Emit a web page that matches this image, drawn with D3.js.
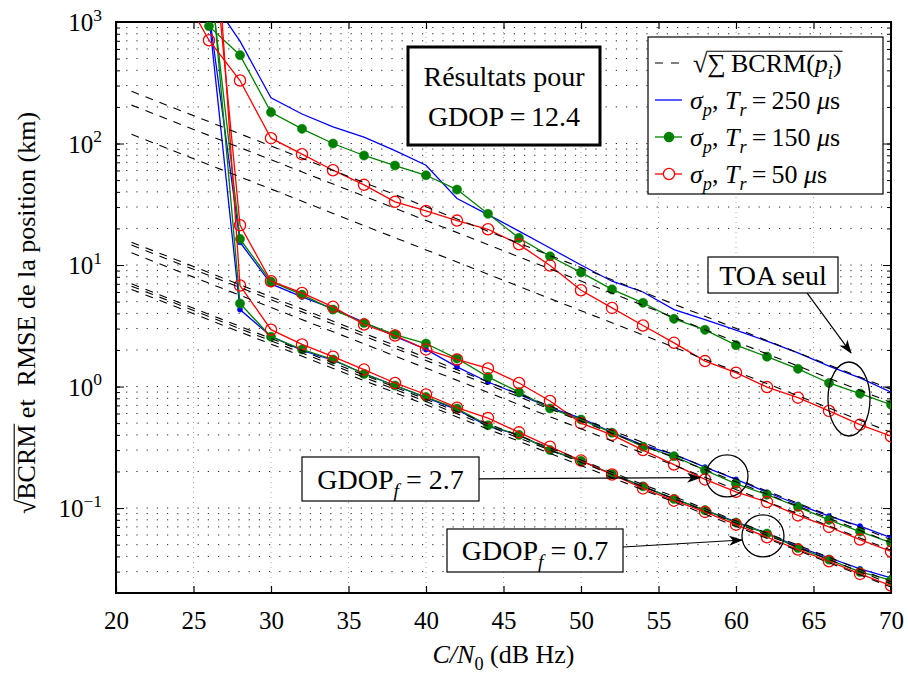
<!DOCTYPE html>
<html>
<head>
<meta charset="utf-8">
<script src="https://cdn.jsdelivr.net/npm/d3@7"></script>
<style>
  body { margin: 0; background: #fff; }
  text { font-family: "Liberation Serif", "Times New Roman", serif; fill: #000; }
</style>
</head>
<body>
<svg id="chart" width="908" height="677"></svg>
<script>
//C/N0 values (dB Hz) where the simulated curves were computed
var cn0 = [24, 26, 28, 30, 32, 34, 36, 38, 40, 42, 44, 46, 48, 50, 52, 54, 56, 58, 60, 62, 64, 66, 68, 70];

//TOA seul (GDOP = 12.4)
var toa250 = [5000, 1650, 695, 238, 175, 137, 113, 87.5, 66.3, 35.3, 26.0, 19.0, 13.8, 10.0, 7.36, 6.0, 4.30, 3.56, 2.91, 2.36, 1.89, 1.47, 1.18, 0.90];
var toa150 = [3000, 924, 533, 181, 132, 100, 79.7, 65.9, 54.8, 41.8, 26.4, 16.7, 11.8, 8.7, 6.3, 4.89, 3.61, 2.93, 2.19, 1.76, 1.40, 1.07, 0.875, 0.71];
var toa50  = [2000, 708, 330, 110.6, 81.7, 60.3, 45.7, 33.1, 27.9, 23.2, 19.7, 14.8, 9.9, 6.2, 4.44, 3.18, 2.29, 1.62, 1.30, 0.99, 0.81, 0.63, 0.486, 0.39];

//GDOP_f = 2.7
var g27_250 = [1e5, 1200, 15.4, 7.0, 5.47, 4.38, 3.38, 2.59, 2.02, 1.45, 1.09, 0.86, 0.67, 0.55, 0.42, 0.33, 0.276, 0.217, 0.172, 0.135, 0.107, 0.086, 0.071, 0.057];
var g27_150 = [1e5, 2750, 16.4, 7.3, 5.7, 4.30, 3.34, 2.68, 2.26, 1.70, 1.20, 0.90, 0.66, 0.535, 0.417, 0.32, 0.267, 0.205, 0.158, 0.129, 0.102, 0.080, 0.064, 0.052];
var g27_50  = [1e6, 10000, 21.3, 7.36, 5.9, 4.53, 3.24, 2.63, 2.02, 1.67, 1.41, 1.07, 0.76, 0.50, 0.40, 0.30, 0.228, 0.172, 0.136, 0.112, 0.087, 0.070, 0.055, 0.044];

//GDOP_f = 0.7
var g07_250 = [1e5, 1100, 4.3, 2.6, 1.98, 1.65, 1.28, 1.02, 0.81, 0.647, 0.47, 0.40, 0.30, 0.245, 0.19, 0.151, 0.119, 0.096, 0.077, 0.062, 0.048, 0.039, 0.0316, 0.0266];
var g07_150 = [1e5, 3700, 4.82, 2.57, 2.02, 1.67, 1.27, 1.02, 0.82, 0.66, 0.48, 0.40, 0.30, 0.245, 0.19, 0.151, 0.119, 0.096, 0.076, 0.0617, 0.047, 0.0377, 0.0298, 0.0255];
var g07_50  = [1e6, 40000, 6.78, 2.94, 2.22, 1.76, 1.38, 1.07, 0.86, 0.67, 0.55, 0.42, 0.32, 0.246, 0.189, 0.145, 0.115, 0.093, 0.073, 0.0575, 0.0455, 0.0365, 0.0287, 0.023];

//sqrt(sum BCRM) bounds : straight lines, value at first and last C/N0
var boundX = [21, 70];
var boundToa = [[269, 0.95], [207, 0.74], [119, 0.42]];
var boundG27 = [[15.4, 0.055], [14.6, 0.052], [12.6, 0.045]];
var boundG07 = [[7.0, 0.0248], [6.7, 0.0238], [6.3, 0.0224]];

//axes
var xTicks = [20, 25, 30, 35, 40, 45, 50, 55, 60, 65, 70];
var yDecades = [-1, 0, 1, 2, 3];

//set up dimensions
var width = 908, height = 677;
var plot = {left: 116, right: 891, top: 22, bottom: 593};

var svg = d3.select("#chart");

var x = d3.scaleLinear().domain([20, 70]).range([plot.left, plot.right]);
var y = d3.scaleLog().domain([0.02, 1000]).range([plot.bottom, plot.top]);

//helper for text with italics, sub/superscripts
function rich(g, px, py, parts, size, anchor) {
    var t = g.append("text")
        .attr("x", px).attr("y", py)
        .attr("font-size", size)
        .attr("text-anchor", anchor || "start")
        .attr("xml:space", "preserve");
    var shift = 0;
    parts.forEach(function(p) {
        if (typeof p === "string") p = {t: p};
        var s = t.append("tspan").text(p.t);
        var target = p.sub ? size * 0.28 : (p.sup ? -size * 0.42 : 0);
        if (target !== shift) { s.attr("dy", target - shift); shift = target; }
        if (p.sub || p.sup) s.attr("font-size", size * 0.7);
        if (p.it) s.attr("font-style", "italic");
    });
    return t;
}

//draw the vinculum of a radical written as first char of text t
function vinculum(g, t, py, size, last) {
    var node = t.node();
    var n = last || node.getNumberOfChars();
    var x0 = node.getEndPositionOfChar(0).x - 1;
    var x1 = node.getEndPositionOfChar(n - 1).x + 1;
    g.append("line")
        .attr("x1", x0).attr("x2", x1)
        .attr("y1", py - size * 0.80).attr("y2", py - size * 0.80)
        .attr("stroke", "#000").attr("stroke-width", 1.1);
}

//clip
svg.append("defs").append("clipPath").attr("id", "clip")
    .append("rect")
    .attr("x", plot.left).attr("y", plot.top)
    .attr("width", plot.right - plot.left).attr("height", plot.bottom - plot.top);

svg.select("defs").append("marker")
    .attr("id", "head")
    .attr("viewBox", "0 0 14 10")
    .attr("refX", 13).attr("refY", 5)
    .attr("markerWidth", 14).attr("markerHeight", 10)
    .attr("markerUnits", "userSpaceOnUse")
    .attr("orient", "auto")
    .append("path")
    .attr("d", "M0,0 L14,5 L0,10 L4,5 Z")
    .attr("fill", "#000");

//grid
var grid = svg.append("g").attr("class", "grid");
var minorVals = [];
[-2, -1, 0, 1, 2].forEach(function(d) {
    for (var k = 1; k <= 9; k++) {
        var v = k * Math.pow(10, d);
        if (v >= 0.02 && v < 1000) minorVals.push(v);
    }
});
grid.selectAll("line.h").data(minorVals).enter().append("line")
    .attr("x1", plot.left).attr("x2", plot.right)
    .attr("y1", function(d) { return y(d); })
    .attr("y2", function(d) { return y(d); })
    .attr("stroke", "#222")
    .attr("stroke-width", 1)
    .attr("stroke-dasharray", "1.2,9");
grid.selectAll("line.v").data(xTicks.slice(1, -1)).enter().append("line")
    .attr("x1", function(d) { return x(d); })
    .attr("x2", function(d) { return x(d); })
    .attr("y1", plot.top).attr("y2", plot.bottom)
    .attr("stroke", "#aaa")
    .attr("stroke-width", 1)
    .attr("stroke-dasharray", "1,4");

//axes with inward ticks
var majorVals = yDecades.map(function(d) { return Math.pow(10, d); });

svg.append("g")
    .attr("transform", "translate(0," + plot.bottom + ")")
    .call(d3.axisBottom(x).tickValues(xTicks).tickSize(-7).tickPadding(18).tickFormat(d3.format("d")))
    .call(function(g) {
        g.select(".domain").remove();
        g.selectAll("text").attr("font-size", 25).attr("font-family", "Liberation Serif");
        g.selectAll("line").attr("stroke-width", 1.2);
    });
svg.append("g")
    .attr("transform", "translate(0," + plot.top + ")")
    .call(d3.axisTop(x).tickValues(xTicks).tickSize(-7).tickFormat(""))
    .call(function(g) { g.select(".domain").remove(); g.selectAll("line").attr("stroke-width", 1.2); });

svg.append("g")
    .attr("transform", "translate(" + plot.left + ",0)")
    .call(d3.axisLeft(y).tickValues(minorVals).tickSize(-4).tickFormat(""))
    .call(function(g) { g.select(".domain").remove(); });
svg.append("g")
    .attr("transform", "translate(" + plot.right + ",0)")
    .call(d3.axisRight(y).tickValues(minorVals).tickSize(-4).tickFormat(""))
    .call(function(g) { g.select(".domain").remove(); });
svg.append("g")
    .attr("transform", "translate(" + plot.left + ",0)")
    .call(d3.axisLeft(y).tickValues(majorVals).tickSize(-8).tickFormat(""))
    .call(function(g) { g.select(".domain").remove(); });
svg.append("g")
    .attr("transform", "translate(" + plot.right + ",0)")
    .call(d3.axisRight(y).tickValues(majorVals).tickSize(-8).tickFormat(""))
    .call(function(g) { g.select(".domain").remove(); });

//y tick labels 10^n
var ylab = svg.append("g");
yDecades.forEach(function(d) {
    rich(ylab, plot.left - 14, y(Math.pow(10, d)) + 9,
        ["10", {t: String(d).replace("-", "\u2212"), sup: true}], 25, "end");
});

//frame
svg.append("rect")
    .attr("x", plot.left).attr("y", plot.top)
    .attr("width", plot.right - plot.left).attr("height", plot.bottom - plot.top)
    .attr("fill", "none").attr("stroke", "#000").attr("stroke-width", 2);

//axis titles
rich(svg, (plot.left + plot.right) / 2, 663,
    [{t: "C/N", it: true}, {t: "0", sub: true}, " (dB Hz)"], 26, "middle");

var yg = svg.append("g").attr("transform", "translate(35,313) rotate(-90)");
var yt = rich(yg, 0, 0, ["\u221ABCRM\u00A0et\u00A0\u00A0RMSE de la position (km)"], 26, "middle");
vinculum(yg, yt, 0, 26, 5);

//curves
var line = d3.line()
    .x(function(d) { return x(d[0]); })
    .y(function(d) { return y(d[1]); });

var series = [
    {v: toa250, c: "#0000ff", m: "none"},
    {v: g27_250, c: "#0000ff", m: "dot"},
    {v: g07_250, c: "#0000ff", m: "dot"},
    {v: toa150, c: "#008000", m: "fill"},
    {v: g27_150, c: "#008000", m: "fill"},
    {v: g07_150, c: "#008000", m: "fill"},
    {v: toa50, c: "#ff0000", m: "open"},
    {v: g27_50, c: "#ff0000", m: "open"},
    {v: g07_50, c: "#ff0000", m: "open"}
];

var curves = svg.append("g").attr("clip-path", "url(#clip)");

series.forEach(function(s) {
    var pts = cn0.map(function(c, i) { return [c, s.v[i]]; });
    curves.append("path")
        .datum(pts)
        .attr("d", line)
        .attr("fill", "none")
        .attr("stroke", s.c)
        .attr("stroke-width", 1.3);
    if (s.m === "none") return;
    curves.selectAll(null)
        .data(pts).enter()
        .append("circle")
        .attr("cx", function(d) { return x(d[0]); })
        .attr("cy", function(d) { return y(d[1]); })
        .attr("r", s.m === "dot" ? 2.6 : (s.m === "fill" ? 4.6 : 5.6))
        .attr("fill", s.m === "open" ? "none" : s.c)
        .attr("stroke", s.c)
        .attr("stroke-width", s.m === "open" ? 1.3 : 0.5);
});

//dashed bounds
[boundToa, boundG27, boundG07].forEach(function(group) {
    group.forEach(function(b) {
        curves.append("path")
            .datum([[boundX[0], b[0]], [boundX[1], b[1]]])
            .attr("d", line)
            .attr("fill", "none")
            .attr("stroke", "#000")
            .attr("stroke-width", 1.1)
            .attr("stroke-dasharray", "8,7");
    });
});

//annotations
var notes = svg.append("g");

function box(cx, cy, w, h, sw) {
    notes.append("rect")
        .attr("x", cx - w / 2).attr("y", cy - h / 2)
        .attr("width", w).attr("height", h)
        .attr("fill", "#fff").attr("stroke", "#000").attr("stroke-width", sw);
}
function arrow(a, b) {
    notes.append("line")
        .attr("x1", x(a[0])).attr("y1", y(a[1]))
        .attr("x2", x(b[0])).attr("y2", y(b[1]))
        .attr("stroke", "#000").attr("stroke-width", 1.2)
        .attr("marker-end", "url(#head)");
}
function ring(c, rx, ry) {
    notes.append("ellipse")
        .attr("cx", x(c[0])).attr("cy", y(c[1]))
        .attr("rx", rx).attr("ry", ry)
        .attr("fill", "none").attr("stroke", "#000").attr("stroke-width", 1.3);
}

//Resultats pour GDOP = 12.4
box(504, 96, 192, 98, 3);
rich(notes, 504, 86, ["R\u00E9sultats pour"], 28, "middle");
rich(notes, 504, 126, ["GDOP\u2009=\u200912.4"], 28, "middle");

//TOA seul
arrow([64.58, 5.89], [67.42, 1.89]);
ring([67.29, 0.79], 21, 37);
box(773, 275, 130, 36, 1.2);
rich(notes, 773, 285, ["TOA seul"], 28, "middle");

//GDOP_f = 2.7
arrow([43.42, 0.174], [57.68, 0.178]);
ring([59.42, 0.184], 21, 21);
box(390.5, 479, 177, 44, 1.2);
rich(notes, 390.5, 489, ["GDOP", {t: "f", sub: true, it: true}, " = 2.7"], 28, "middle");

//GDOP_f = 0.7
arrow([52.71, 0.0478], [60.39, 0.0546]);
ring([61.74, 0.059], 21, 21);
box(535, 550.5, 176, 43, 1.2);
rich(notes, 535, 560, ["GDOP", {t: "f", sub: true, it: true}, " = 0.7"], 28, "middle");

//legend
var leg = svg.append("g");
leg.append("rect")
    .attr("x", 648).attr("y", 37).attr("width", 235).attr("height", 157)
    .attr("fill", "#fff").attr("stroke", "#000").attr("stroke-width", 1.2);

var legRows = [
    {c: "#000", m: "dash", parts: ["\u221A\u2211\u2009BCRM(", {t: "p", it: true}, {t: "i", it: true, sub: true}, ")"]},
    {c: "#0000ff", m: "none", parts: [{t: "\u03C3", it: true}, {t: "p", it: true, sub: true}, ", ", {t: "T", it: true}, {t: "r", it: true, sub: true}, "\u2009=\u2009250 ", {t: "\u03BC", it: true}, "s"]},
    {c: "#008000", m: "fill", parts: [{t: "\u03C3", it: true}, {t: "p", it: true, sub: true}, ", ", {t: "T", it: true}, {t: "r", it: true, sub: true}, "\u2009=\u2009150 ", {t: "\u03BC", it: true}, "s"]},
    {c: "#ff0000", m: "open", parts: [{t: "\u03C3", it: true}, {t: "p", it: true, sub: true}, ", ", {t: "T", it: true}, {t: "r", it: true, sub: true}, "\u2009=\u200950 ", {t: "\u03BC", it: true}, "s"]}
];
var legY = [63, 100, 137, 174];

legRows.forEach(function(r, i) {
    var cy = legY[i];
    leg.append("line")
        .attr("x1", 655).attr("x2", 682)
        .attr("y1", cy).attr("y2", cy)
        .attr("stroke", r.c).attr("stroke-width", r.m === "dash" ? 1.1 : 1.3)
        .attr("stroke-dasharray", r.m === "dash" ? "8,8" : null);
    if (r.m === "fill" || r.m === "open") {
        leg.append("circle")
            .attr("cx", 669).attr("cy", cy)
            .attr("r", r.m === "fill" ? 4.6 : 5.6)
            .attr("fill", r.m === "fill" ? r.c : "#fff")
            .attr("stroke", r.c).attr("stroke-width", 1.3);
    }
    var t = rich(leg, i === 0 ? 693 : 690, cy + 9, r.parts, 26, "start");
    if (i === 0) vinculum(leg, t, cy + 9, 26);
});
</script>
</body>
</html>
